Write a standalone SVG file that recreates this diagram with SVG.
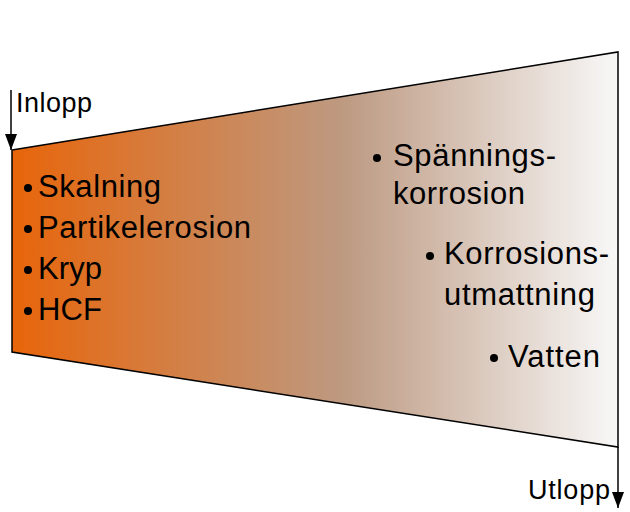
<svg xmlns="http://www.w3.org/2000/svg" width="630" height="512" viewBox="0 0 630 512">
<style>
text{font-family:"Liberation Sans",Arial,sans-serif;fill:#000}
.b{font-size:31px}
.s{font-size:27px}
.ln{stroke:#000;stroke-width:1.5;fill:none}
</style>
<defs>
<linearGradient id="g" x1="12" y1="0" x2="618" y2="0" gradientUnits="userSpaceOnUse">
<stop offset="0" stop-color="#e8650a"/>
<stop offset="0.55" stop-color="#bd9a82"/>
<stop offset="1" stop-color="#f8f8f8"/>
</linearGradient>
<marker id="a" markerWidth="17" markerHeight="12" refX="16" refY="6" orient="auto" markerUnits="userSpaceOnUse" viewBox="0 0 17 12"><path d="M0,0 L16,6 L0,12 Z" fill="#000"/></marker>
</defs>
<g id="shape"><polygon points="12,150 618,52 618,447 12,352" fill="url(#g)" stroke="#000" stroke-width="1.5"/></g>
<g id="connectors">
<line class="ln" x1="11" y1="90" x2="11" y2="150" marker-end="url(#a)"/>
<line class="ln" x1="618" y1="447" x2="618" y2="508" marker-end="url(#a)"/>
</g>
<g id="inlopp"><text class="s" x="16" y="112" textLength="76">Inlopp</text></g>
<g id="utlopp"><text class="s" x="528" y="499" textLength="82">Utlopp</text></g>
<g id="left">
<circle cx="28" cy="188" r="4"/><text class="b" x="38" y="197" textLength="123">Skalning</text>
<circle cx="28" cy="229" r="4"/><text class="b" x="38" y="238" textLength="213">Partikelerosion</text>
<circle cx="28" cy="270" r="4"/><text class="b" x="38" y="279" textLength="64">Kryp</text>
<circle cx="28" cy="311" r="4"/><text class="b" x="38" y="320" textLength="64">HCF</text>
</g>
<g id="right">
<circle cx="377" cy="158" r="4"/><text class="b" x="393" y="166" textLength="163">Spännings-</text>
<text class="b" x="393" y="204" textLength="132">korrosion</text>
<circle cx="430" cy="256" r="4"/><text class="b" x="444" y="264" textLength="165">Korrosions-</text>
<text class="b" x="444" y="305" textLength="151">utmattning</text>
<circle cx="494" cy="358" r="4"/><text class="b" x="508" y="367" textLength="92">Vatten</text>
</g>
</svg>
